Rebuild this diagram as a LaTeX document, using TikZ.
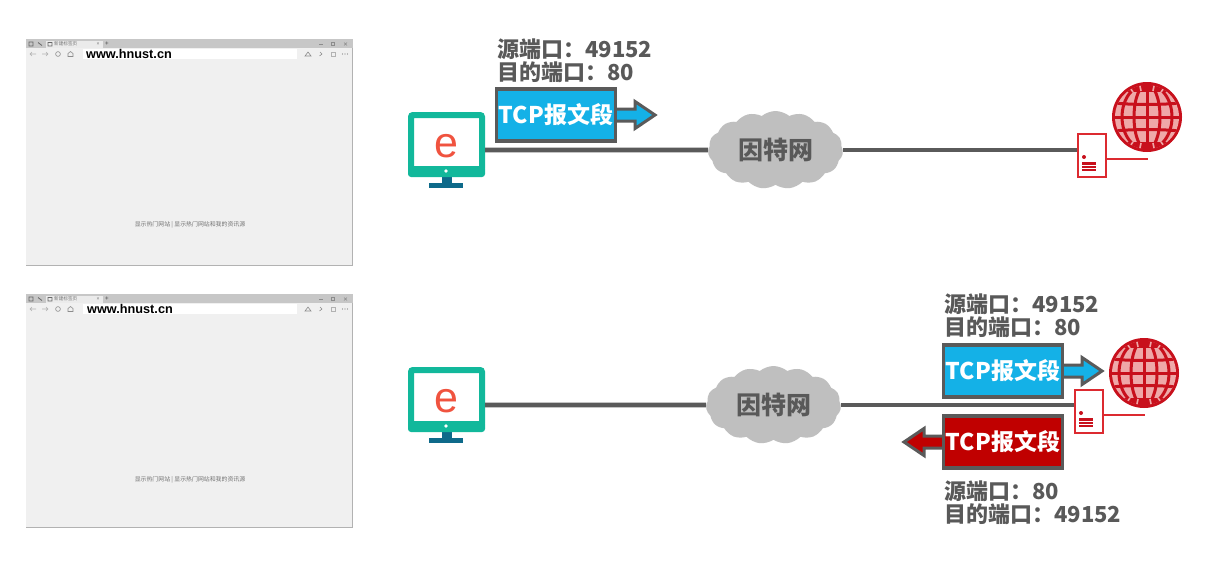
\documentclass[tikz,border=0pt]{standalone}
\usepackage{fontspec}
\setmainfont{Liberation Sans}
\newfontfamily\cjk{Noto Sans CJK SC}
\usetikzlibrary{shapes.symbols}
\definecolor{gr}{HTML}{595959}
\definecolor{lineg}{HTML}{5A5A5A}
\definecolor{teal1}{HTML}{12B89B}
\definecolor{teal2}{HTML}{0E6A8A}
\definecolor{blue1}{HTML}{14B1E7}
\definecolor{red1}{HTML}{C00000}
\definecolor{red2}{HTML}{C8101C}
\definecolor{redl}{HTML}{DC2A30}
\definecolor{pink1}{HTML}{EFA8A8}
\definecolor{cl}{HTML}{BFBFBF}
\tikzset{
 x=1pt,y=-1pt,
 lbl/.style={anchor=west,inner sep=0,text=gr,font=\cjk\bfseries\fontsize{22}{24}\selectfont},
 seg/.style={draw=lineg,line width=3.6pt,miter limit=6,minimum width=119pt,minimum height=52pt,inner sep=0,text=white,font=\cjk\bfseries\fontsize{23}{25}\selectfont},
 arrowbody/.style={draw=lineg,line width=3pt,line join=miter,miter limit=6},
 wire/.style={draw=lineg,line width=4.6pt},
 cloudn/.style={cloud,cloud puffs=15,cloud puff arc=80,aspect=1.75,fill=cl,minimum width=135pt,minimum height=78pt,inner sep=0,text=gr,font=\cjk\bfseries\fontsize{25}{27}\selectfont},
 tiny/.style={inner sep=0,text=#1,font=\cjk\fontsize{5.9}{7}\selectfont},
 ico/.style={draw=black!45,line width=.6pt},
 srvbox/.style={draw=redl,fill=white,line width=1.2pt,minimum width=28pt,minimum height=43pt,inner sep=0},
 screen/.style={fill=white,draw=teal1,line width=6pt,rounded corners=2pt,minimum width=71pt,minimum height=55pt,inner sep=0},
}
% browser: name, top y, height, url x offset
\newcommand\browserwin[4]{%
 \begin{scope}[shift={(26,#2)}]
  \fill[black!30] (0,0) rectangle (327,#3);
  \fill[white!94!black] (0,0) rectangle (326.4,#3-.6);
  \fill[black!22] (0,0) rectangle (327,9);
  \fill[black!8] (20,1.5) rectangle (77,9);
  \fill[white] (57,10) rectangle (271,19.5);
  \node[tiny=black!55,font=\cjk\fontsize{4.6}{5}\selectfont,anchor=west] (#1tab) at (28,5) {新建标签页};
  \node[tiny=black!55,font=\fontsize{5}{6}\selectfont] (#1x) at (72,5.5) {×};
  \node[tiny=black!60,font=\bfseries\fontsize{6}{6}\selectfont] (#1plus) at (81,5) {+};
  \draw[black!60,line width=.8pt] (3,3) rectangle (7,7) (12,3.5) -- (16,6.5) (22,3.5) rectangle (26,7);
  \draw[ico] (293,5) -- (297,5);
  \draw[ico] (305.5,3.5) rectangle (308.5,6.5);
  \draw[ico] (318,3.5) -- (321,6.5) (318,6.5) -- (321,3.5);
  \draw[ico,black!30] (4,15) -- (10,15) (6,13) -- (4,15) -- (6,17);
  \draw[ico,black!30] (16,15) -- (22,15) (20,13) -- (22,15) -- (20,17);
  \draw[ico] (32,15) circle (2.4);
  \draw[ico] (42,17.5) -- (42,14.5) -- (44.5,12.5) -- (47,14.5) -- (47,17.5) -- cycle;
  \draw[ico] (282,13) -- (285,17) -- (279,17) -- cycle;
  \draw[ico] (294,13) -- (296,15) -- (293.5,17);
  \draw[ico,black!30] (305,13) rectangle (309,17);
  \fill[black!50] (316.5,15) circle (.6) (319,15) circle (.6) (321.5,15) circle (.6);
  \node[anchor=west,inner sep=0,text=black,font=\bfseries\fontsize{12.7}{14}\selectfont] (#1url) at (#4,15) {www.hnust.cn};
  \node[tiny=black!55] (#1foot) at (164,186) {显示热门网站 | 显示热门网站和我的资讯源};
 \end{scope}}
% computer: name, shift y
\newcommand\computer[2]{%
 \begin{scope}[shift={(0,#2)}]
  \fill[teal2] (442,176) rectangle (452,184);
  \fill[teal2] (429,183) rectangle (463,188);
  \node[screen] (#1) at (446.5,142.5) {};
  \fill[teal1,rounded corners=3pt] (408,166) rectangle (485,177);
  \fill[white] (446,171) circle (1.8);
  \node[inner sep=0,text={rgb,255:red,240;green,83;blue,63},font=\fontsize{43}{45}\selectfont] (#1e) at (446,146) {e};
 \end{scope}}
% globe centre
\newcommand\globe[3]{%
 \begin{scope}[shift={(#2,#3)}]
  \node[circle,fill=red2,minimum size=70pt,inner sep=0] (#1) at (0,0) {};
  \begin{scope}
   \clip (0,0) circle (32);
   \fill[pink1] (-33,-33) rectangle (33,33);
   \begin{scope}[draw=red2,line width=3pt]
    \draw (-33,0) -- (33,0);
    \draw (-33,-14) .. controls (-12,-12) and (12,-12) .. (33,-14);
    \draw (-33,14) .. controls (-12,12) and (12,12) .. (33,14);
    \fill[red2] (-33,-33) rectangle (33,-25);
    \fill[red2] (-33,25) rectangle (33,33);
    \draw (0,-33) -- (0,33);
    \draw (0,0) ellipse (13 and 33);
    \draw (0,0) ellipse (25 and 33);
   \end{scope}
   \draw[pink1,line width=1.6pt] (-7,-31) -- (-6,-26) (7,-31) -- (6,-26) (-17,-29) -- (-14,-25) (17,-29) -- (14,-25)
      (-7,31) -- (-6,26) (7,31) -- (6,26) (-17,29) -- (-14,25) (17,29) -- (14,25);
  \end{scope}
 \end{scope}}
% server: name, centre x, centre y, tail end x
\newcommand\server[4]{%
 \node[srvbox] (#1) at (#2,#3) {};
 \coordinate (#1end) at (#4,#3+3.7);
 \draw[redl,line width=1.6pt] (#1.east |- #1end) -- (#1end);
 \begin{scope}[shift={(#2,#3)}]
  \fill[red2] (-8,1.5) circle (2);
  \fill[red2] (-10,6.5) rectangle (4,15.5);
  \draw[white,line width=.4pt] (-10,9.5) -- (4,9.5) (-10,12.5) -- (4,12.5);
 \end{scope}}
% segment box: name, centre x, centre y, fill, direction (+1 right / -1 left)
\newcommand\segment[5]{%
 \begin{scope}[shift={(#2,#3)}]
  \draw[arrowbody,fill=#4] (0,-6) -- (#5*79,-6) -- (#5*79,-13.5) -- (#5*99,0) -- (#5*79,13.5) -- (#5*79,6) -- (0,6) -- cycle;
  \node[seg,fill=#4] (#1) at (0,0) {TCP报文段};
 \end{scope}}
\begin{document}
\begin{tikzpicture}
\useasboundingbox[fill=white] (0,0) rectangle (1221,560);
\browserwin{ba}{39}{226.5}{60}
\browserwin{bb}{294}{233.5}{61}

% upper scene
\computer{pca}{0}
\node[cloudn] (cla) at (775.5,150) {\raisebox{-1.5pt}{因特网}};
\server{sva}{1092}{155.5}{1148}
\globe{gla}{1147}{117}
\draw[wire] (pca.east |- cla.center) -- (cla.west);
\draw[wire] (cla.east) -- (sva.west |- cla.center);
\segment{sega}{556}{115}{blue1}{1}
\node[lbl] (la1) at (497,49) {源端口：49152};
\node[lbl] (la2) at (497,72) {目的端口：80};

% lower scene
\computer{pcb}{255}
\node[cloudn] (clb) at (773.5,405) {\raisebox{-1.5pt}{因特网}};
\server{svb}{1089}{411.5}{1145}
\globe{glb}{1144}{373}
\draw[wire] (pcb.east |- clb.center) -- (clb.west);
\draw[wire] (clb.east) -- (svb.west |- clb.center);
\segment{segb}{1003}{371}{blue1}{1}
\segment{segc}{1003}{442}{red1}{-1}
\node[lbl] (lb1) at (944,304) {源端口：49152};
\node[lbl] (lb2) at (944,327) {目的端口：80};
\node[lbl] (lb3) at (944,491) {源端口：80};
\node[lbl] (lb4) at (944,514) {目的端口：49152};
\end{tikzpicture}
\end{document}
